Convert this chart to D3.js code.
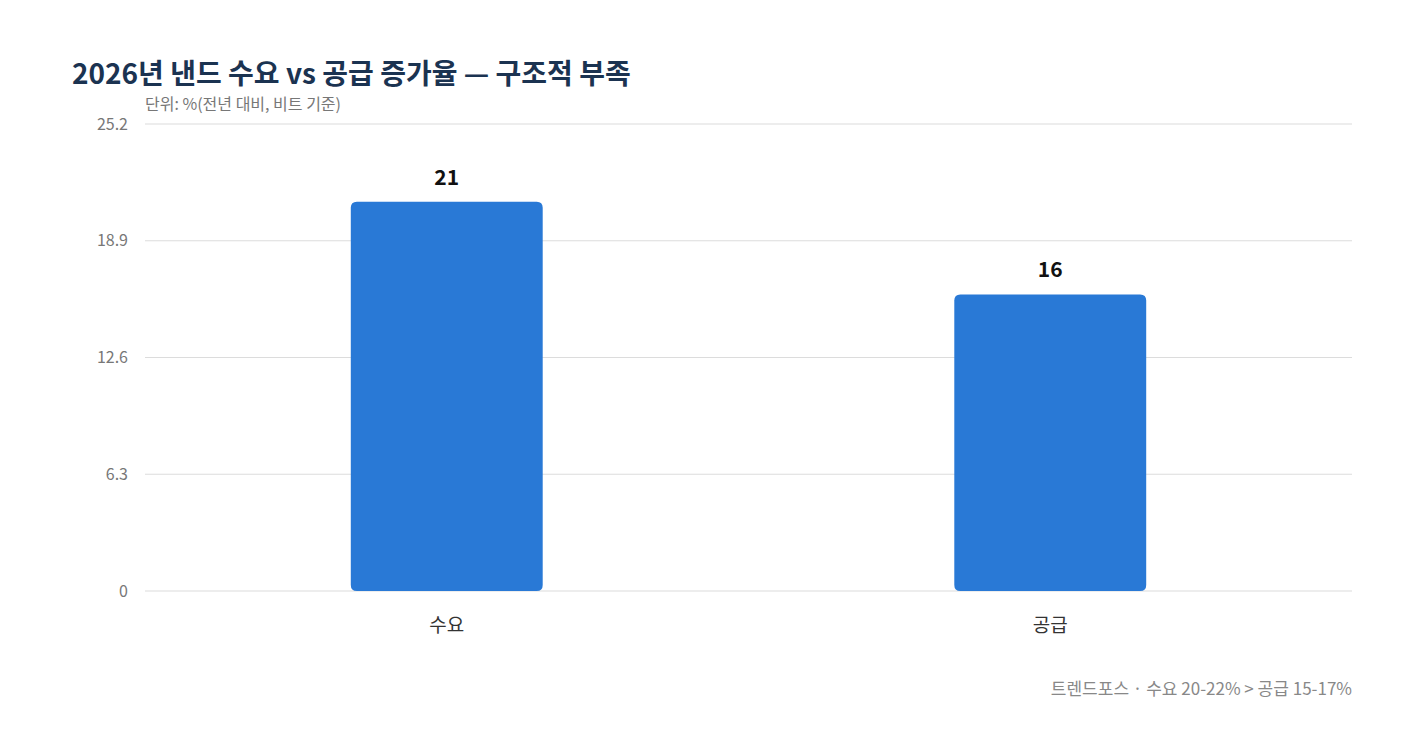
<!DOCTYPE html>
<html><head><meta charset="utf-8">
<script src="https://cdn.jsdelivr.net/npm/d3@7"></script>
<style>body{margin:0;background:#fff}text{font-family:"Noto Sans CJK KR","Noto Sans",sans-serif}</style>
</head><body><svg id="c" width="1408" height="750"></svg>
<script>
const categories=["수요","공급"];
const values=[21,16];
const ticks=[0,6.3,12.6,18.9,25.2];
const svg=d3.select("#c");
const L=145,R=1352,T=124,B=591;
const x=d3.scaleBand().domain(categories).range([L,R]);
const y=d3.scaleLinear().domain([0,25.2]).range([B,T]);
svg.append("g").selectAll("line").data(ticks).join("line")
 .attr("x1",L).attr("x2",R).attr("y1",d=>y(d)).attr("y2",d=>y(d))
 .attr("stroke","#dcdcdc").attr("stroke-width",1.2);
svg.append("g").selectAll("text").data(ticks).join("text")
 .attr("x",L-17).attr("y",d=>y(d)).attr("dy","0.35em").attr("text-anchor","end")
 .attr("font-size",16).attr("fill","#777").text(d=>d);
const bw=x.bandwidth()*0.318;
svg.append("g").selectAll("path").data(categories).join("path")
 .attr("fill","#2979d6")
 .attr("d",(c,i)=>{const x0=x(c)+x.bandwidth()/2-bw/2,x1=x0+bw,y0=y(values[i]),y1=y(0),r=6;
   return `M${x0},${y1-r}V${y0+r}Q${x0},${y0} ${x0+r},${y0}H${x1-r}Q${x1},${y0} ${x1},${y0+r}V${y1-r}Q${x1},${y1} ${x1-r},${y1}H${x0+r}Q${x0},${y1} ${x0},${y1-r}Z`;});
svg.append("g").selectAll("text").data(categories).join("text")
 .attr("x",c=>x(c)+x.bandwidth()/2).attr("y",(c,i)=>y(values[i])-17)
 .attr("text-anchor","middle").attr("font-size",21).attr("font-weight","bold").attr("fill","#111")
 .text((c,i)=>values[i]);
svg.append("g").selectAll("text").data(categories).join("text")
 .attr("x",c=>x(c)+x.bandwidth()/2).attr("y",632)
 .attr("text-anchor","middle").attr("font-size",19).attr("fill","#333").text(c=>c);
svg.append("text").attr("x",72).attr("y",84).attr("font-size",28).attr("font-weight","bold")
 .attr("fill","#1b3351").text("2026년 낸드 수요 vs 공급 증가율 — 구조적 부족");
svg.append("text").attr("x",145).attr("y",110).attr("font-size",16).attr("fill","#777")
 .text("단위: %(전년 대비, 비트 기준)");
svg.append("text").attr("x",1352).attr("y",695).attr("text-anchor","end").attr("font-size",17)
 .attr("fill","#888").text("트렌드포스 · 수요 20-22% > 공급 15-17%");
</script></body></html>
